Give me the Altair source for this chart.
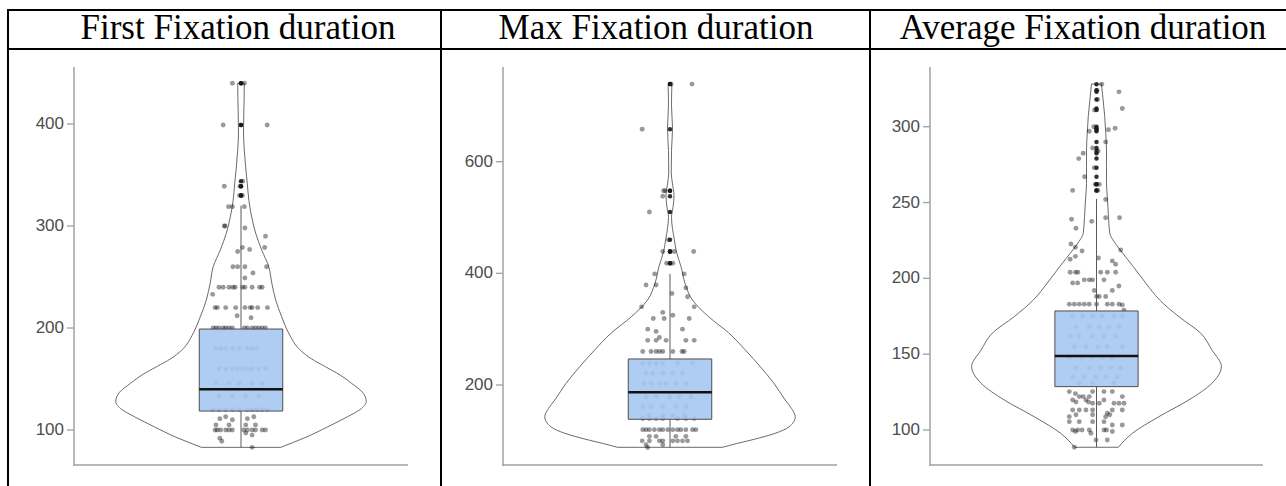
import altair as alt
import pandas as pd

# ---------------- data ----------------
titles = ["First Fixation duration", "Max Fixation duration", "Average Fixation duration"]

y_ticks = [[100, 200, 300, 400], [200, 400, 600], [100, 150, 200, 250, 300]]
y_domains = [[65.7, 455.9], [56.7, 769.6], [76.9, 339.4]]

# box statistics: lower whisker, Q1, median, Q3, upper whisker
box_lo = [83, 88, 88.6]
box_q1 = [118.6, 138.6, 128.6]
box_med = [140, 186.9, 148.8]
box_q3 = [199, 246.6, 178.5]
box_hi = [320, 399, 252.4]

# violin outlines: value and relative density (max = 1)
vio1_val = [83, 88, 93, 103, 113, 120, 128, 137, 146, 154, 162, 170, 178, 195, 211, 227, 244, 260, 276, 293,
            309, 325, 342, 358, 375, 391, 410, 425, 440]
vio1_den = [0.317, 0.42, 0.52, 0.69, 0.85, 0.95, 1.0, 0.97, 0.88, 0.79, 0.675, 0.56, 0.476, 0.381, 0.325, 0.278,
            0.246, 0.222, 0.167, 0.117, 0.085, 0.063, 0.05, 0.037, 0.026, 0.02, 0.022, 0.025, 0.026]

vio2_val = [88.4, 95, 101.5, 113.5, 125, 143, 158, 173, 203, 233, 263, 293, 322, 352, 382, 412, 440, 460, 480,
            500, 520, 540, 560, 580, 620, 660, 700, 739]
vio2_den = [0.42, 0.53, 0.65, 0.84, 0.95, 1.0, 0.97, 0.92, 0.83, 0.72, 0.60, 0.47, 0.31, 0.18, 0.12, 0.088,
            0.05, 0.035, 0.02, 0.012, 0.025, 0.032, 0.02, 0.01, 0.012, 0.02, 0.012, 0.015]

vio3_val = [88.6, 97.8, 108.8, 119.8, 130.8, 141.8, 152.8, 163.8, 174.7, 185.8, 196.8, 207.7, 218.7, 224.2,
            229.7, 240.7, 251.7, 262.7, 273.7, 284.7, 295.7, 306.7, 317.7, 328.2]
vio3_den = [0.175, 0.287, 0.5, 0.739, 0.924, 1.0, 0.924, 0.835, 0.66, 0.505, 0.395, 0.295, 0.19, 0.141,
            0.106, 0.096, 0.088, 0.08, 0.08, 0.08, 0.074, 0.066, 0.053, 0.04]

# jittered observations: value and horizontal jitter (category units)
pts1_val = [440, 440, 399, 399, 344, 339, 339, 330, 330, 319, 319, 319, 300, 300, 298, 290, 279, 277, 279, 275,
            260, 260, 260, 254, 260, 249, 240, 240, 240, 240, 240, 240, 240, 240, 240, 240, 233,
            220, 220, 220, 220, 220, 220, 220, 220, 220, 212, 210,
            200, 200, 200, 200, 200, 200, 200, 200, 200, 200, 200, 200, 200, 200,
            180, 180, 180, 180, 180, 180, 180, 180, 160, 160, 160, 160, 160, 160, 160, 160, 160,
            146, 146, 146, 146, 146, 133, 133, 133, 133,
            120, 120, 120, 120, 120, 120, 120, 120, 120, 120, 111, 113, 110, 111, 113, 105, 105, 105, 105,
            100, 100, 100, 100, 100, 100, 100, 100, 100, 100, 100, 100, 97, 95, 92, 89, 83]
pts1_jit = [-0.031, 0.012, -0.064, 0.094, 0.006, -0.060, -0.004, -0.005, 0.005, -0.045, -0.031, 0.012,
            -0.060, -0.057, 0.014, 0.088, 0.005, 0.031, 0.085, -0.012,
            -0.029, -0.012, 0.014, 0.043, 0.092, 0.014, -0.079, -0.064, -0.043, -0.029, -0.021, 0.005, 0.014,
            0.040, 0.067, 0.076, -0.102,
            -0.093, -0.085, -0.055, -0.019, 0.014, 0.033, 0.040, 0.060, 0.095, -0.014, 0.036,
            -0.100, -0.090, -0.079, -0.064, -0.055, -0.043, -0.031, 0.012, 0.023, 0.040, 0.052, 0.064, 0.076,
            0.088,
            -0.090, -0.073, -0.055, -0.031, -0.007, 0.023, 0.040, 0.058,
            -0.079, -0.055, -0.031, -0.013, 0.005, 0.023, 0.040, 0.064, 0.088,
            -0.090, -0.043, -0.007, 0.040, 0.076, -0.079, -0.031, 0.017, 0.064,
            -0.102, -0.079, -0.055, -0.031, -0.007, 0.023, 0.040, 0.058, 0.076, 0.094,
            -0.076, -0.055, -0.031, 0.023, 0.046, -0.090, -0.043, 0.017, 0.052,
            -0.093, -0.085, -0.073, -0.055, -0.043, -0.031, 0.010, 0.023, 0.040, 0.052, 0.076, 0.088,
            0.017, 0.040, -0.076, -0.069, 0.040]

pts2_val = [739, 739, 658, 548, 548, 538, 510, 460, 439, 439, 439, 418, 418, 399, 399, 379, 379, 374, 364, 358,
            340, 340, 330, 319, 319, 319, 325, 300, 300, 296, 280, 280, 280, 280, 280, 285,
            260, 260, 260, 260, 260, 260, 260, 260,
            239, 239, 239, 239, 239, 239, 221, 221, 221, 221, 221, 203, 203, 203, 203, 203, 203,
            179, 179, 179, 179, 179, 161, 161, 161, 161, 161, 146, 146, 146, 146,
            140, 140, 140, 140, 140, 140, 140,
            120, 120, 120, 120, 120, 120, 120, 120, 120, 120, 120, 120, 120,
            108, 108, 108, 108, 100, 100, 100, 100, 100, 100, 100, 100, 93, 93, 88]
pts2_jit = [0.079, 0.004, -0.100, -0.023, -0.017, -0.026, -0.074, -0.006, -0.026, 0.015, 0.085, -0.012, 0.010,
            -0.055, 0.051, -0.086, -0.050, 0.057, 0.007, 0.063,
            -0.102, 0.087, -0.026, -0.060, -0.021, 0.069, 0.010, -0.080, 0.045, -0.050,
            -0.080, -0.050, -0.014, 0.057, 0.087, -0.038,
            -0.098, -0.068, -0.050, -0.038, -0.026, 0.010, 0.043, 0.051,
            -0.098, -0.074, -0.050, -0.026, 0.027, 0.081, -0.086, -0.062, -0.026, 0.010, 0.045,
            -0.092, -0.068, -0.038, -0.014, 0.021, 0.057,
            -0.086, -0.050, -0.002, 0.033, 0.075, -0.098, -0.068, -0.026, 0.021, 0.057,
            -0.074, -0.026, 0.010, 0.051,
            -0.098, -0.074, -0.050, -0.026, 0.027, 0.057, 0.087,
            -0.098, -0.086, -0.074, -0.056, -0.038, -0.026, -0.008, 0.010, 0.027, 0.039, 0.057, 0.081, 0.093,
            -0.074, -0.050, 0.021, 0.057, -0.100, -0.074, -0.038, -0.026, 0.010, 0.027, 0.045, 0.063,
            -0.086, -0.026, -0.080]

pts3_val = [328, 324, 323, 318, 312, 311, 300, 298, 299, 297, 290, 286, 284, 282.5, 279, 273, 267, 262, 262, 258,
            258, 252, 239, 237.6, 240, 240, 233, 222.7, 220.5, 218, 212.6, 214.5, 218.7, 211.5, 209.3, 213.4,
            204, 204, 204, 204, 204, 204, 199, 199, 199, 199, 195, 197, 197, 192, 192, 188, 188, 188, 182.5, 179,
            183, 183, 183, 183, 183, 183, 183, 183, 183,
            175, 175, 175, 175, 175, 175, 168, 168, 168, 168, 168, 162, 162, 162, 162, 162,
            155, 155, 155, 155, 155, 148, 148, 148, 148, 148, 141, 141, 141, 141, 141,
            135, 135, 135, 135, 135, 131, 131, 131,
            125.3, 125.3, 125.3, 125.3, 124, 122, 122, 122, 122, 119.8, 119.8, 119.8, 118.5, 118.5,
            117.6, 117.6, 117.6, 117.6, 117.6, 113.2, 113.2, 113.2, 113.2, 113.2, 113.2, 111, 108.8, 108.8,
            110, 110, 110, 105.5, 105.5, 105.5, 105.5, 103.3, 103.3,
            100, 100, 100, 100, 100, 100, 99, 99, 97.8, 93.4, 93.4, 88.6]
pts3_jit = [0.019, 0.002, 0.081, 0.004, 0.093, -0.007, -0.010, 0.043, 0.067, -0.026, 0.033, -0.014, 0.006,
            -0.048, -0.064, -0.008, -0.043, 0.010, -0.004, -0.086, 0.005, 0.033,
            -0.090, -0.017, 0.033, 0.083, -0.074, -0.092, -0.076, -0.052, -0.095, -0.076, 0.087, 0.057, 0.069,
            0.007,
            -0.095, -0.076, -0.067, 0.015, 0.039, 0.069, -0.044, -0.026, -0.014, 0.027, 0.081, -0.086, -0.068,
            -0.008, 0.057, 0.000, 0.010, 0.033, 0.093, 0.099,
            -0.098, -0.080, -0.062, -0.044, -0.026, 0.000, 0.039, 0.057, 0.081,
            -0.086, -0.050, -0.014, 0.021, 0.063, 0.093, -0.074, -0.026, 0.010, 0.045, 0.081,
            -0.092, -0.062, -0.014, 0.027, 0.069,
            -0.080, -0.038, 0.004, 0.039, 0.093, -0.098, -0.056, -0.014, 0.021, 0.057,
            -0.074, -0.026, 0.015, 0.051, 0.087,
            -0.086, -0.044, -0.002, 0.033, 0.075, -0.062, -0.014, 0.063,
            -0.098, -0.014, 0.027, 0.057, -0.076, -0.062, -0.048, -0.026, 0.093, -0.086, -0.038, 0.027,
            -0.074, -0.029,
            -0.014, 0.010, 0.063, 0.081, 0.099, -0.086, -0.062, -0.038, -0.014, 0.057, 0.093, 0.039, -0.098,
            0.033,
            -0.074, -0.014, 0.048, -0.098, -0.062, -0.014, 0.027, 0.093, 0.057,
            -0.086, -0.068, -0.052, -0.026, 0.027, 0.036, -0.076, 0.057, -0.020, -0.002, 0.039, -0.080]

violins = [(vio1_val, vio1_den), (vio2_val, vio2_den), (vio3_val, vio3_den)]
points = [(pts1_val, pts1_jit), (pts2_val, pts2_jit), (pts3_val, pts3_jit)]

# ---------------- layout / style ----------------
W, H = 1286, 486
AX_LEFT = [74, 503, 930]
AX_RIGHT = [408, 837, 1263]
PLOT_TOP, PLOT_BOTTOM = 67, 465
HEADER_X = [238, 656, 1083]
HEADER_BASE = 39
CAT = 1.0
VIOLIN_HALF = 0.45
BOX_HALF = 0.15
AXIS_GREY = "#a0a0a0"

one = pd.DataFrame({"a": [0]})


def make_panel(i):
    xs = alt.Scale(domain=[0.4, 1.6], range=[AX_LEFT[i], AX_RIGHT[i]], nice=False, zero=False)
    ys = alt.Scale(domain=y_domains[i], range=[PLOT_BOTTOM, PLOT_TOP], nice=False, zero=False)

    # axis lines, ticks and tick labels
    y_line = alt.Chart(one).mark_rule(color=AXIS_GREY, strokeWidth=1.5).encode(
        x=alt.value(AX_LEFT[i]), y=alt.value(PLOT_TOP), y2=alt.value(PLOT_BOTTOM + 0.75))
    x_line = alt.Chart(one).mark_rule(color=AXIS_GREY, strokeWidth=1.5).encode(
        y=alt.value(PLOT_BOTTOM), x=alt.value(AX_LEFT[i] - 0.75), x2=alt.value(AX_RIGHT[i]))
    tdf = pd.DataFrame({"t": y_ticks[i]})
    tick_marks = alt.Chart(tdf).mark_rule(color=AXIS_GREY, strokeWidth=1.3).encode(
        y=alt.Y("t:Q", scale=ys, axis=None), x=alt.value(AX_LEFT[i] - 7), x2=alt.value(AX_LEFT[i]))
    tick_labels = alt.Chart(tdf).mark_text(
        align="right", baseline="middle", font="Liberation Sans", fontSize=17, color="#4d4d4d"
    ).encode(y=alt.Y("t:Q", scale=ys, axis=None), x=alt.value(AX_LEFT[i] - 10), text="t:Q")

    vv, vd = violins[i]
    vio = pd.DataFrame({"v": vv, "d": vd})
    violin = alt.Chart(vio).transform_calculate(
        xl=f"{CAT} - {VIOLIN_HALF} * datum.d", xr=f"{CAT} + {VIOLIN_HALF} * datum.d"
    ).mark_area(orient="horizontal", fill="white", stroke="#5a5a5a", strokeWidth=0.9,
                interpolate="monotone").encode(
        y=alt.Y("v:Q", scale=ys, axis=None),
        x=alt.X("xl:Q", scale=xs, axis=None),
        x2=alt.X2("xr:Q"),
    )

    pv, pj = points[i]
    pts = pd.DataFrame({"v": pv, "j": pj})
    jitter = alt.Chart(pts).transform_calculate(x=f"{CAT} + datum.j").mark_circle(
        size=24, color="black", opacity=0.4).encode(
        x=alt.X("x:Q", scale=xs, axis=None),
        y=alt.Y("v:Q", scale=ys, axis=None),
    )

    stats = pd.DataFrame({"lo": [box_lo[i]], "q1": [box_q1[i]], "med": [box_med[i]],
                          "q3": [box_q3[i]], "hi": [box_hi[i]]})
    base = alt.Chart(stats).transform_calculate(
        xl=f"{CAT} - {BOX_HALF}", xr=f"{CAT} + {BOX_HALF}", xc=f"{CAT}")
    w_lo = base.mark_rule(color="#5a5a5a", strokeWidth=1).encode(
        x=alt.X("xc:Q", scale=xs, axis=None), y=alt.Y("lo:Q", scale=ys, axis=None), y2="q1:Q")
    w_hi = base.mark_rule(color="#5a5a5a", strokeWidth=1).encode(
        x=alt.X("xc:Q", scale=xs, axis=None), y=alt.Y("q3:Q", scale=ys, axis=None), y2="hi:Q")
    box = base.mark_rect(fill="#a6c8f2", fillOpacity=0.9, stroke="#4d4d4d", strokeWidth=1).encode(
        x=alt.X("xl:Q", scale=xs, axis=None), x2="xr:Q",
        y=alt.Y("q1:Q", scale=ys, axis=None), y2="q3:Q")
    med = base.mark_rule(color="#111111", strokeWidth=2.5).encode(
        x=alt.X("xl:Q", scale=xs, axis=None), x2="xr:Q",
        y=alt.Y("med:Q", scale=ys, axis=None))

    outl = alt.Chart(pts).transform_filter(
        f"datum.v > {box_hi[i]} || datum.v < {box_lo[i]}"
    ).transform_calculate(x=f"{CAT}").mark_circle(size=20, color="#1a1a1a", opacity=0.9).encode(
        x=alt.X("x:Q", scale=xs, axis=None),
        y=alt.Y("v:Q", scale=ys, axis=None),
    )
    return alt.layer(violin, y_line, x_line, tick_marks, tick_labels, jitter, w_lo, w_hi, box, med, outl)


def vline(x):
    return alt.Chart(one).mark_rule(color="black", strokeWidth=2).encode(
        x=alt.value(x), y=alt.value(9), y2=alt.value(H))


def hline(y):
    return alt.Chart(one).mark_rule(color="black", strokeWidth=2).encode(
        y=alt.value(y), x=alt.value(7), x2=alt.value(W))


decor = [vline(8), vline(441), vline(870), hline(10), hline(49)]

headers = [
    alt.Chart(pd.DataFrame({"t": [titles[i]]})).mark_text(
        font="Liberation Serif", fontSize=35, color="black", align="center", baseline="alphabetic"
    ).encode(text="t:N", x=alt.value(HEADER_X[i]), y=alt.value(HEADER_BASE))
    for i in range(3)
]

panels = [make_panel(i) for i in range(3)]

chart = alt.layer(*decor, *headers, *panels).resolve_scale(
    x="independent", y="independent"
).properties(
    width=W, height=H, padding=0, autosize=alt.AutoSizeParams(type="none"),
    background="white"
).configure_view(stroke=None)

chart.save("out.html", embed_options={"renderer": "svg", "actions": False})
